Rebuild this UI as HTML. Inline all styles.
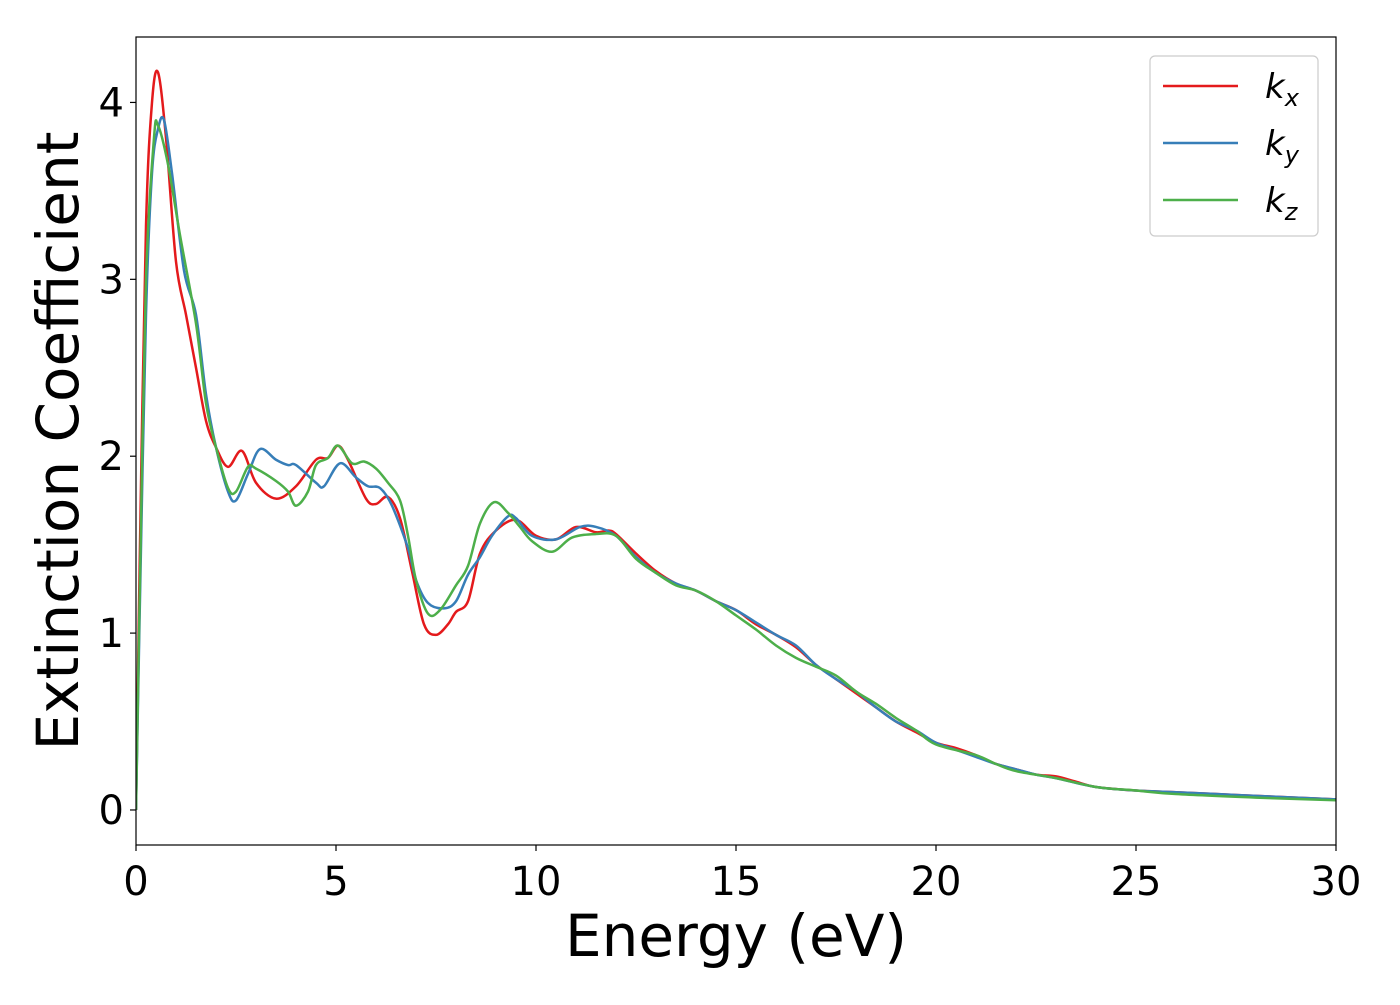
<!DOCTYPE html>
<html><head><meta charset="utf-8"><style>
html,body{margin:0;padding:0;background:#fff;}
svg text{font-family:"DejaVu Sans","Liberation Sans",sans-serif;}
</style></head><body>
<svg id="chart" width="1400" height="1000" xmlns="http://www.w3.org/2000/svg">
<g id="plot"></g>
</svg>
<script>
const xTicks=[0,5,10,15,20,25,30];
const yTicks=[0,1,2,3,4];
const kxE=[0,0.1,0.25,0.4,0.55,0.75,1.0,1.25,1.5,1.75,2.0,2.3,2.65,3.0,3.5,4.0,4.5,4.8,5.05,5.3,5.75,6.0,6.3,6.6,6.9,7.2,7.5,7.8,8.0,8.3,8.6,9.0,9.5,10,10.5,11,11.5,11.8,12,12.5,13,13.5,14,14.5,15,15.5,16,16.5,17,17.5,18,18.5,19,19.5,20,20.5,21,21.5,22,22.5,23,23.5,24,25,26,27,28,29,30];
const kxV=[0,1.5,3.3,4.0,4.17,3.8,3.1,2.8,2.5,2.2,2.05,1.94,2.03,1.85,1.76,1.83,1.98,1.99,2.06,1.98,1.76,1.73,1.77,1.65,1.35,1.05,0.99,1.05,1.12,1.18,1.45,1.58,1.64,1.55,1.53,1.6,1.57,1.58,1.56,1.45,1.35,1.28,1.24,1.18,1.13,1.05,0.99,0.92,0.82,0.74,0.66,0.58,0.5,0.44,0.38,0.35,0.31,0.26,0.23,0.2,0.19,0.16,0.13,0.11,0.1,0.09,0.08,0.07,0.06];
const kyE=[0,0.1,0.25,0.4,0.55,0.7,0.9,1.2,1.5,1.75,2.0,2.3,2.5,2.8,3.1,3.5,3.8,4.0,4.5,4.7,5.1,5.5,5.8,6.1,6.4,6.8,7.0,7.3,7.7,8.0,8.3,8.6,8.9,9.3,9.5,9.9,10.5,11.1,11.5,12,12.5,13,13.5,14,14.5,15,15.5,16,16.5,17,17.5,18,18.5,19,19.5,20,20.5,21,21.5,22,22.5,23,24,25,26,27,28,29,30];
const kyV=[0,1.2,2.8,3.6,3.85,3.9,3.6,3.05,2.8,2.35,2.05,1.8,1.75,1.9,2.04,1.98,1.95,1.95,1.85,1.83,1.96,1.88,1.83,1.82,1.72,1.48,1.3,1.17,1.14,1.18,1.33,1.43,1.55,1.66,1.65,1.55,1.53,1.6,1.6,1.55,1.43,1.34,1.28,1.24,1.18,1.13,1.06,0.99,0.93,0.82,0.74,0.67,0.58,0.5,0.45,0.38,0.34,0.3,0.26,0.23,0.2,0.18,0.13,0.11,0.1,0.09,0.08,0.07,0.06];
const kzE=[0,0.1,0.25,0.45,0.55,0.8,1.1,1.5,1.75,2.0,2.3,2.5,2.8,3.0,3.5,3.8,4.0,4.3,4.5,4.8,5.05,5.4,5.7,6.0,6.3,6.6,6.8,7.0,7.3,7.6,8.0,8.3,8.6,8.95,9.3,9.6,9.9,10.4,10.9,11.5,12,12.5,13,13.5,14,14.5,15,15.5,16,16.5,17,17.5,18,18.5,19,19.5,20,21,21.5,22,23,24,25,26,28,30];
const kzV=[0,1.3,3.0,3.8,3.87,3.65,3.25,2.75,2.3,2.05,1.82,1.8,1.94,1.93,1.86,1.8,1.72,1.8,1.95,1.99,2.06,1.96,1.97,1.93,1.85,1.75,1.55,1.3,1.11,1.13,1.27,1.38,1.62,1.74,1.68,1.6,1.52,1.46,1.54,1.56,1.55,1.42,1.34,1.27,1.24,1.18,1.1,1.02,0.93,0.86,0.81,0.76,0.67,0.6,0.52,0.45,0.37,0.31,0.26,0.22,0.18,0.13,0.11,0.09,0.07,0.055];

const L=136,R=1336,T=37,B=845,xMin=0,xMax=30,yMin=-0.198,yMax=4.37;
const sx=v=>L+(v-xMin)/(xMax-xMin)*(R-L);
const sy=v=>B-(v-yMin)/(yMax-yMin)*(B-T);
const NS="http://www.w3.org/2000/svg";
const g=document.getElementById('plot');
function mk(tag,attrs){const e=document.createElementNS(NS,tag);for(const k in attrs)e.setAttribute(k,attrs[k]);return e;}
function path(E,V){
  const p=E.map((e,i)=>[sx(e),sy(V[i])]);
  let d=`M${p[0][0]},${p[0][1]}`;
  for(let i=0;i<p.length-1;i++){
    const p0=p[Math.max(i-1,0)],p1=p[i],p2=p[i+1],p3=p[Math.min(i+2,p.length-1)];
    const c1=[p1[0]+(p2[0]-p0[0])/6,p1[1]+(p2[1]-p0[1])/6];
    const c2=[p2[0]-(p3[0]-p1[0])/6,p2[1]-(p3[1]-p1[1])/6];
    d+=`C${c1[0]},${c1[1]} ${c2[0]},${c2[1]} ${p2[0]},${p2[1]}`;
  }
  return d;
}
const defs=mk('defs',{});const cp=mk('clipPath',{id:'clip'});cp.appendChild(mk('rect',{x:L,y:T,width:R-L,height:B-T}));defs.appendChild(cp);g.appendChild(defs);
const series=[[kxE,kxV,'#e41a1c','series-kx'],[kyE,kyV,'#377eb8','series-ky'],[kzE,kzV,'#4daf4a','series-kz']];
series.forEach(s=>{
  const el=mk('path',{d:path(s[0],s[1]),fill:'none',stroke:s[2],'stroke-width':2.5,'clip-path':'url(#clip)'});
  
  
  g.appendChild(el);
});
const frame=mk('rect',{x:L,y:T,width:R-L,height:B-T,fill:'none',stroke:'#000','stroke-width':1.2});


g.appendChild(frame);
xTicks.forEach(t=>{
  const ln=mk('line',{x1:sx(t),x2:sx(t),y1:B,y2:B+6,stroke:'#000','stroke-width':1.2});
  
  
  g.appendChild(ln);
  const tx=mk('text',{x:sx(t),y:B+50,'font-size':40,'text-anchor':'middle'});tx.textContent=t;
  
  
  g.appendChild(tx);
});
yTicks.forEach(t=>{
  const ln=mk('line',{x1:L-6,x2:L,y1:sy(t),y2:sy(t),stroke:'#000','stroke-width':1.2});
  
  
  g.appendChild(ln);
  const tx=mk('text',{x:L-12,y:sy(t)+14,'font-size':40,'text-anchor':'end'});tx.textContent=t;
  
  
  g.appendChild(tx);
});
const xl=mk('text',{x:(L+R)/2,y:956,'font-size':58,'text-anchor':'middle'});xl.textContent='Energy (eV)';


g.appendChild(xl);
const yl=mk('text',{x:0,y:0,'font-size':58,'text-anchor':'middle',transform:`translate(78,${(T+B)/2}) rotate(-90)`});yl.textContent='Extinction Coefficient';


g.appendChild(yl);
const lg=mk('g',{});


lg.appendChild(mk('rect',{x:1150,y:56,width:168,height:180,rx:5,fill:'#fff',stroke:'#ccc','stroke-width':1.2}));
[['x','#e41a1c'],['y','#377eb8'],['z','#4daf4a']].forEach((s,i)=>{
  const y=86+i*57;
  const ln=mk('line',{x1:1163,x2:1238,y1:y,y2:y,stroke:s[1],'stroke-width':2.5});
  
  
  lg.appendChild(ln);
  const tx=mk('text',{x:1265,y:y+12,'font-size':34,'font-style':'italic'});
  tx.innerHTML='k<tspan font-size="24" dy="8">'+s[0]+'</tspan>';
  
  
  lg.appendChild(tx);
});
g.appendChild(lg);
</script>
</body></html>
